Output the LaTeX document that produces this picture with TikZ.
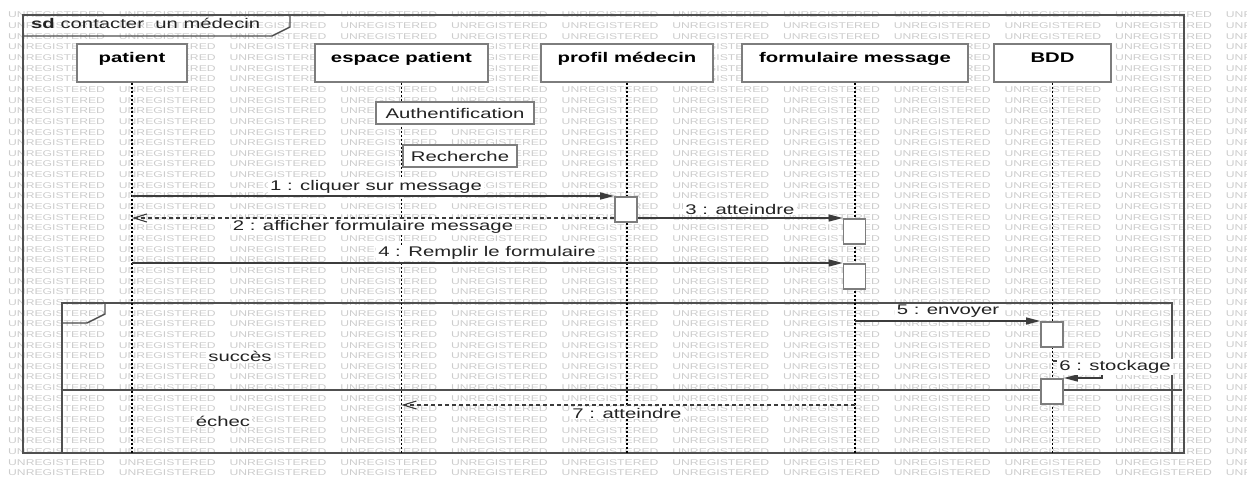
\documentclass[tikz,border=0pt]{standalone}
\usepackage{fontspec}
\setmainfont[FakeStretch=1.45]{Liberation Sans}
\usetikzlibrary{arrows.meta}
\definecolor{wmgray}{RGB}{205,205,205}
\definecolor{framegray}{RGB}{80,80,80}
\definecolor{boxgray}{RGB}{125,125,125}
\definecolor{linegray}{RGB}{60,60,60}
\definecolor{txt}{RGB}{35,35,35}
\begin{document}
\begin{tikzpicture}[x=1pt,y=-1pt,
  wm/.style={font=\fontsize{8.4}{9}\selectfont, text=wmgray, inner sep=0pt, anchor=west},
  frame/.style={draw=framegray, line width=1.4pt},
  head/.style={draw=boxgray, line width=1.6pt, fill=white, anchor=north,
    minimum height=38pt, inner ysep=3pt, text height=16pt, text depth=16pt,
    text=black, font=\bfseries\fontsize{14}{16}\selectfont},
  lifeline/.style={draw=black, line width=1.4pt, dash pattern=on 2pt off 2pt},
  notebox/.style={draw=boxgray, line width=1.4pt, fill=white, minimum height=22pt,
    inner sep=0pt, text=txt, font=\fontsize{14}{16}\selectfont},
  act/.style={draw=boxgray, line width=1.6pt, fill=white, minimum width=22pt,
    minimum height=25pt, inner sep=0pt, anchor=north},
  msg/.style={draw=linegray, line width=1.3pt, -{Triangle[length=14pt,width=7pt]}},
  ret/.style={draw=linegray, line width=1.3pt, dash pattern=on 4pt off 3pt,
    -{Straight Barb[length=13pt,width=8pt,line width=1.1pt]}},
  lbl/.style={fill=white, inner xsep=2pt, inner ysep=1pt, text=txt,
    font=\fontsize{14}{16}\selectfont},
]
\useasboundingbox (0,0) rectangle (1247,478);
\fill[white] (0,0) rectangle (1247,478);

% tool watermark, repeated over the whole sheet
\foreach \r in {0,...,43}{
  \foreach \c in {0,...,10}{
    \node[wm] (wm-\r-\c) at ({8+110.7*\c},{15+10.65*\r}) {UNREGISTERED};
  }
  \node[wm] (wm-\r-11) at (1225.7,{15+10.65*\r}) {UNR};
}

% sequence diagram frame
\draw[frame] (23,15) rectangle (1184,453);
\draw[frame] (23,36) -- (272,36) -- (290,27) -- (290,15);
\node[anchor=base west, inner sep=0pt, text=txt, font=\fontsize{14}{16}\selectfont]
  (title) at (31,29) {\textbf{sd} contacter\ \ un médecin};

% alt fragment
\draw[frame] (62,303) rectangle (1172,453);
\draw[frame] (62,323) -- (87,323) -- (105,314) -- (105,303);
\draw[frame] (62,390) -- (1182,390);

% lifeline heads
\node[head, minimum width=110pt] (patient)    at (132,43)   {patient};
\node[head, minimum width=173pt] (espace)     at (401.5,43) {espace patient};
\node[head, minimum width=172pt] (profil)     at (627,43)   {profil médecin};
\node[head, minimum width=226pt] (formulaire) at (855,43)   {formulaire message};
\node[head, minimum width=117pt] (bdd)        at (1052.5,43){BDD};

% lifelines
\coordinate (base) at (0,453);
\foreach \l in {patient,espace,profil,formulaire,bdd}{
  \draw[lifeline] (\l.south) -- (\l.south |- base);
}

% state boxes on the espace patient lifeline
\node[notebox, minimum width=158pt] (auth) at (455,113) {Authentification};
\node[notebox, minimum width=114pt] (rech) at (460,156) {Recherche};

% activation bar positions (invisible anchors for the messages)
\coordinate (a1p) at (626,196);
\coordinate (a2p) at (854.5,218);
\coordinate (a3p) at (854.5,263);
\coordinate (a4p) at (1052,321);
\coordinate (a5p) at (1052,378);
\path (a1p) node[act, draw=none, fill=none] (a1) {}
      (a2p) node[act, draw=none, fill=none] (a2) {}
      (a3p) node[act, draw=none, fill=none] (a3) {}
      (a4p) node[act, draw=none, fill=none] (a4) {}
      (a5p) node[act, draw=none, fill=none] (a5) {};

% messages
\coordinate (s6) at (1053,361);
\coordinate (s6r) at (1102,361);
\coordinate (m7) at (855,405);
\draw[msg] (patient.south |- a1.north) -- (a1.north west);
\draw[ret] (a1.west |- a2.north) -- (patient.south |- a2.north);
\draw[msg] (a1.east |- a2.north) -- (a2.north west);
\draw[msg] (patient.south |- a3.north) -- (a3.north west);
\draw[msg] (formulaire.south |- a4.north) -- (a4.north west);
\draw[msg] (s6) -- (s6r) |- (a5.north east);
\draw[ret] (m7) -- (espace.south |- m7);

% activation bars drawn over the lines
\node[act] (b1) at (a1p) {};
\node[act] (b2) at (a2p) {};
\node[act] (b3) at (a3p) {};
\node[act] (b4) at (a4p) {};
\node[act] (b5) at (a5p) {};

% message labels
\node[lbl] (l1) at (376,187) {1 : cliquer sur message};
\node[lbl] (l2) at (373,227) {2 : afficher formulaire message};
\node[lbl] (l3) at (740,209) {3 : atteindre};
\node[lbl] (l4) at (487,253) {4 : Remplir le formulaire};
\node[lbl] (l5) at (948,311) {5 : envoyer};
\node[lbl] (l6) at (1115,367) {6 : stockage};
\node[lbl] (l7) at (627,413) {7 : atteindre};

% alt guards
\node[lbl] (g1) at (240,356) {succès};
\node[lbl] (g2) at (223,421) {échec};
\end{tikzpicture}
\end{document}
